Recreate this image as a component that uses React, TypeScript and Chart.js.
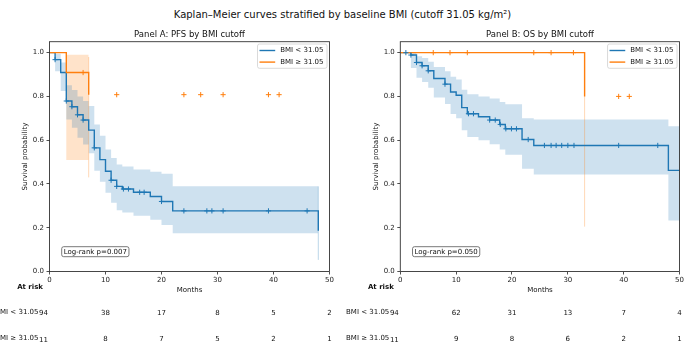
import React, { useEffect, useRef } from 'react';
import { Chart, registerables } from 'chart.js';

Chart.register(...registerables);

const FONT = "'DejaVu Sans', 'Liberation Sans', sans-serif";
const BLUE = '#1f77b4';
const ORANGE = '#ff7f0e';
const BLUE_BAND = 'rgba(31,119,180,0.22)';
const ORANGE_BAND = 'rgba(255,127,14,0.22)';
const BLUE_EDGE = 'rgba(31,119,180,0.3)';
const ORANGE_EDGE = 'rgba(255,127,14,0.3)';

const SUPTITLE = 'Kaplan–Meier curves stratified by baseline BMI (cutoff 31.05 kg/m²)';
const GROUP_LABELS = ['BMI < 31.05', 'BMI ≥ 31.05'];
const X_TICKS = [0, 10, 20, 30, 40, 50];
const Y_TICKS = [0, 0.2, 0.4, 0.6, 0.8, 1.0];

// ---- Panel A: PFS, BMI < 31.05
const pfsLowTimes = [0, 1, 2, 3, 4, 5, 6, 7, 8, 9, 10, 11, 12, 13, 15, 18, 20, 22, 48];
const pfsLowSurv = [1.0, 0.968, 0.909, 0.779, 0.753, 0.716, 0.692, 0.646, 0.565, 0.511, 0.458, 0.417, 0.389, 0.377, 0.362, 0.343, 0.32, 0.277, 0.186];
const pfsLowLower = [1.0, 0.915, 0.825, 0.695, 0.657, 0.611, 0.58, 0.54, 0.46, 0.41, 0.36, 0.314, 0.28, 0.27, 0.255, 0.236, 0.213, 0.175, 0.053];
const pfsLowUpper = [1.0, 0.995, 0.955, 0.851, 0.829, 0.8, 0.779, 0.756, 0.672, 0.62, 0.557, 0.519, 0.489, 0.48, 0.466, 0.456, 0.447, 0.389, 0.389];
const pfsLowCensorT = [1, 3, 4, 5, 6, 8, 11, 12, 13.2, 14.1, 16.1, 16.9, 20, 24, 28.1, 29, 31, 39.1, 46];
const pfsLowCensorS = [0.968, 0.779, 0.753, 0.716, 0.692, 0.565, 0.417, 0.389, 0.377, 0.377, 0.362, 0.362, 0.32, 0.277, 0.277, 0.277, 0.277, 0.277, 0.277];

// ---- Panel A: PFS, BMI >= 31.05
const pfsHighTimes = [0, 3, 7];
const pfsHighSurv = [1.0, 0.909, 0.808];
const pfsHighLower = [1.0, 0.51, 0.43];
const pfsHighUpper = [1.0, 0.99, 0.98];
const pfsHighCensorT = [6, 12, 24, 27, 31, 39.1, 41];
const pfsHighCensorS = [0.909, 0.808, 0.808, 0.808, 0.808, 0.808, 0.808];

// ---- Panel B: OS, BMI < 31.05
const osLowTimes = [0, 1.9, 2.9, 3.9, 5, 6, 8, 9, 10, 11, 12, 14, 16, 17.8, 18.8, 21.8, 23.9, 48, 50];
const osLowSurv = [1.0, 0.989, 0.955, 0.94, 0.917, 0.882, 0.856, 0.82, 0.805, 0.749, 0.721, 0.707, 0.692, 0.672, 0.652, 0.603, 0.576, 0.462, 0.462];
const osLowLower = [1.0, 0.93, 0.885, 0.866, 0.84, 0.795, 0.765, 0.72, 0.7, 0.645, 0.615, 0.6, 0.582, 0.558, 0.534, 0.47, 0.443, 0.233, 0.233];
const osLowUpper = [1.0, 0.998, 0.983, 0.975, 0.958, 0.934, 0.915, 0.89, 0.877, 0.83, 0.81, 0.8, 0.79, 0.775, 0.764, 0.7, 0.695, 0.664, 0.664];
const osLowCensorT = [1, 1.9, 2.9, 3.9, 5, 8, 12.2, 13.1, 16, 17, 17.9, 18.9, 19.9, 20.8, 22.9, 25.8, 27, 27.9, 28.9, 30, 31.1, 39.1, 46.1];
const osLowCensorS = [1.0, 0.989, 0.955, 0.94, 0.917, 0.856, 0.721, 0.721, 0.692, 0.692, 0.672, 0.652, 0.652, 0.652, 0.603, 0.576, 0.576, 0.576, 0.576, 0.576, 0.576, 0.576, 0.576];

// ---- Panel B: OS, BMI >= 31.05
const osHighTimes = [0, 33];
const osHighSurv = [1.0, 0.8];
const osHighLower = [1.0, 0.205];
const osHighUpper = [1.0, 1.0];
const osHighCensorT = [5.9, 8.9, 12, 23.9, 27, 31, 39.1, 41];
const osHighCensorS = [1.0, 1.0, 1.0, 1.0, 1.0, 1.0, 0.8, 0.8];

// ---- At-risk tables
const pfsRiskLow = [94, 38, 17, 8, 5, 2];
const pfsRiskHigh = [11, 8, 7, 5, 2, 1];
const osRiskLow = [94, 62, 31, 13, 7, 4];
const osRiskHigh = [11, 9, 8, 6, 2, 1];

const pts = (t: number[], v: number[]) => t.map((x, i) => ({ x, y: v[i] }));
const lastPair = (t: number[], lo: number[], hi: number[]) => {
  const n = t.length - 1;
  return [{ x: t[n], y: lo[n] }, { x: t[n], y: hi[n] }];
};

interface Series {
  times: number[]; surv: number[]; lower: number[]; upper: number[];
  censorT: number[]; censorS: number[]; color: string; band: string; edge: string;
}

interface Panel {
  title: string; logrank: string; low: Series; high: Series; risk: number[][];
}

const PANEL_A: Panel = {
  title: 'Panel A: PFS by BMI cutoff',
  logrank: 'Log-rank p=0.007',
  low: { times: pfsLowTimes, surv: pfsLowSurv, lower: pfsLowLower, upper: pfsLowUpper, censorT: pfsLowCensorT, censorS: pfsLowCensorS, color: BLUE, band: BLUE_BAND, edge: BLUE_EDGE },
  high: { times: pfsHighTimes, surv: pfsHighSurv, lower: pfsHighLower, upper: pfsHighUpper, censorT: pfsHighCensorT, censorS: pfsHighCensorS, color: ORANGE, band: ORANGE_BAND, edge: ORANGE_EDGE },
  risk: [pfsRiskLow, pfsRiskHigh],
};

const PANEL_B: Panel = {
  title: 'Panel B: OS by BMI cutoff',
  logrank: 'Log-rank p=0.050',
  low: { times: osLowTimes, surv: osLowSurv, lower: osLowLower, upper: osLowUpper, censorT: osLowCensorT, censorS: osLowCensorS, color: BLUE, band: BLUE_BAND, edge: BLUE_EDGE },
  high: { times: osHighTimes, surv: osHighSurv, lower: osHighLower, upper: osHighUpper, censorT: osHighCensorT, censorS: osHighCensorS, color: ORANGE, band: ORANGE_BAND, edge: ORANGE_EDGE },
  risk: [osRiskLow, osRiskHigh],
};

function buildDatasets(p: Panel) {
  const ds: any[] = [];
  const addBand = (s: Series) => {
    const upIdx = ds.length;
    ds.push({
      data: pts(s.times, s.upper), stepped: 'before', fill: upIdx + 1,
      backgroundColor: s.band, borderColor: 'rgba(0,0,0,0)', borderWidth: 0, pointRadius: 0, order: 5,
    });
    ds.push({
      data: pts(s.times, s.lower), stepped: 'before', fill: false,
      borderColor: 'rgba(0,0,0,0)', borderWidth: 0, pointRadius: 0, order: 5,
    });
    ds.push({
      data: lastPair(s.times, s.lower, s.upper), fill: false,
      borderColor: s.edge, borderWidth: 1, pointRadius: 0, order: 4,
    });
  };
  addBand(p.low);
  addBand(p.high);
  ds.push({ data: pts(p.low.times, p.low.surv), stepped: 'before', fill: false, borderColor: p.low.color, borderWidth: 1.4, pointRadius: 0, order: 3 });
  ds.push({ data: pts(p.high.times, p.high.surv), stepped: 'before', fill: false, borderColor: p.high.color, borderWidth: 1.4, pointRadius: 0, order: 2 });
  for (const s of [p.low, p.high]) {
    ds.push({
      data: pts(s.censorT, s.censorS), showLine: false, pointStyle: 'cross', pointRadius: 2.6,
      pointBorderWidth: 1, pointBorderColor: s.color, pointBackgroundColor: s.color, borderColor: s.color, order: 1,
    });
  }
  return ds;
}

function roundRect(ctx: CanvasRenderingContext2D, x: number, y: number, w: number, h: number, r: number) {
  ctx.beginPath();
  ctx.moveTo(x + r, y);
  ctx.lineTo(x + w - r, y);
  ctx.arcTo(x + w, y, x + w, y + r, r);
  ctx.lineTo(x + w, y + h - r);
  ctx.arcTo(x + w, y + h, x + w - r, y + h, r);
  ctx.lineTo(x + r, y + h);
  ctx.arcTo(x, y + h, x, y + h - r, r);
  ctx.lineTo(x, y + r);
  ctx.arcTo(x, y, x + r, y, r);
  ctx.closePath();
}

function makeDecor(p: Panel) {
  return {
    id: 'decor',
    afterDraw(chart: any) {
      const { ctx, chartArea: ca, scales } = chart;
      const xs = scales.x;
      const cx = (ca.left + ca.right) / 2;
      ctx.save();
      // frame
      ctx.strokeStyle = '#333';
      ctx.lineWidth = 0.9;
      ctx.strokeRect(ca.left, ca.top, ca.right - ca.left, ca.bottom - ca.top);
      ctx.fillStyle = '#111';
      ctx.textBaseline = 'middle';
      // panel title
      ctx.font = `8.5px ${FONT}`;
      ctx.textAlign = 'center';
      ctx.fillText(p.title, cx, 34.5);
      // axis titles
      ctx.font = `7px ${FONT}`;
      ctx.fillText('Months', cx, 290);
      ctx.save();
      ctx.translate(ca.left - 24, (ca.top + ca.bottom) / 2);
      ctx.rotate(-Math.PI / 2);
      ctx.fillText('Survival probability', 0, 0);
      ctx.restore();
      // legend
      const lw = 69.5, lh = 24.3;
      const lx = ca.right - 2.5 - lw, ly = ca.top + 2.3;
      roundRect(ctx, lx, ly, lw, lh, 2);
      ctx.fillStyle = 'rgba(255,255,255,0.85)';
      ctx.fill();
      ctx.strokeStyle = '#d0d0d0';
      ctx.lineWidth = 0.8;
      ctx.stroke();
      [p.low, p.high].forEach((s, i) => {
        const yy = ly + 6.5 + i * 11.6;
        ctx.strokeStyle = s.color;
        ctx.lineWidth = 1.4;
        ctx.beginPath();
        ctx.moveTo(lx + 2, yy);
        ctx.lineTo(lx + 17.7, yy);
        ctx.stroke();
        ctx.fillStyle = '#111';
        ctx.textAlign = 'left';
        ctx.font = `7px ${FONT}`;
        ctx.fillText(GROUP_LABELS[i], lx + 22.7, yy);
      });
      // log-rank box
      ctx.font = `7px ${FONT}`;
      const tw = ctx.measureText(p.logrank).width;
      const bx = ca.left + 12.2, by = 246.7, bw = tw + 4, bh = 10;
      roundRect(ctx, bx, by, bw, bh, 2);
      ctx.fillStyle = '#fff';
      ctx.fill();
      ctx.strokeStyle = '#555';
      ctx.lineWidth = 0.8;
      ctx.stroke();
      ctx.fillStyle = '#111';
      ctx.textAlign = 'center';
      ctx.fillText(p.logrank, bx + bw / 2, by + bh / 2 + 0.3);
      // at risk
      ctx.font = `bold 7px ${FONT}`;
      ctx.textAlign = 'right';
      ctx.fillText('At risk', ca.left - 6.5, 287.5);
      ctx.font = `7px ${FONT}`;
      const rowY = [312.3, 338.5];
      p.risk.forEach((row, r) => {
        ctx.textAlign = 'right';
        ctx.fillText(GROUP_LABELS[r], ca.left - 11, rowY[r]);
        row.forEach((n, i) => {
          const x = xs.getPixelForValue(X_TICKS[i]);
          if (i === 0) {
            ctx.textAlign = 'right';
            ctx.fillText(String(n), ca.left - 1.5, rowY[r] + 1.2);
          } else {
            ctx.textAlign = 'center';
            ctx.fillText(String(n), x, rowY[r] + 0.4);
          }
        });
      });
      ctx.restore();
    },
  };
}

function makeChart(canvas: HTMLCanvasElement, p: Panel, yAxisWidth: number, rightPad: number) {
  return new Chart(canvas, {
    type: 'line',
    data: { datasets: buildDatasets(p) },
    options: {
      animation: false,
      responsive: false,
      events: [],
      layout: { padding: { left: 0, right: rightPad, top: 41.7, bottom: 0 } },
      scales: {
        x: {
          type: 'linear', min: 0, max: 50,
          afterBuildTicks: (s: any) => { s.ticks = X_TICKS.map((v) => ({ value: v })); },
          afterFit: (s: any) => { s.height = 70.5; },
          grid: { drawOnChartArea: false, drawTicks: true, tickLength: 3, color: '#222', lineWidth: 0.8 },
          border: { display: false },
          ticks: { font: { family: FONT, size: 7 }, color: '#222', padding: 1, maxRotation: 0, autoSkip: false, callback: (v: any) => String(v) },
        },
        y: {
          type: 'linear', min: 0, max: 1.05,
          afterBuildTicks: (s: any) => { s.ticks = Y_TICKS.map((v) => ({ value: v })); },
          afterFit: (s: any) => { s.width = yAxisWidth; },
          grid: { drawOnChartArea: false, drawTicks: true, tickLength: 3, color: '#222', lineWidth: 0.8 },
          border: { display: false },
          ticks: { font: { family: FONT, size: 7 }, color: '#222', padding: 2.5, autoSkip: false, callback: (v: any) => Number(v).toFixed(1) },
        },
      },
      plugins: { legend: { display: false }, tooltip: { enabled: false }, title: { display: false } },
    } as any,
    plugins: [makeDecor(p)],
  });
}

export default function App() {
  const refA = useRef<HTMLCanvasElement>(null);
  const refB = useRef<HTMLCanvasElement>(null);
  useEffect(() => {
    const a = makeChart(refA.current!, PANEL_A, 49.5, 15.5);
    const b = makeChart(refB.current!, PANEL_B, 65.3, 5);
    return () => { a.destroy(); b.destroy(); };
  }, []);
  return (
    <div style={{ position: 'relative', width: 685, height: 342, background: '#fff', overflow: 'hidden' }}>
      <style>{'body{margin:0;background:#fff}'}</style>
      <div style={{ position: 'absolute', left: 0, top: 9, width: 685, textAlign: 'center', font: `10px ${FONT}`, lineHeight: '12px', color: '#111' }}>
        {SUPTITLE}
      </div>
      <canvas ref={refA} width={345} height={342} style={{ position: 'absolute', left: 0, top: 0 }} />
      <canvas ref={refB} width={350} height={342} style={{ position: 'absolute', left: 335, top: 0 }} />
    </div>
  );
}
